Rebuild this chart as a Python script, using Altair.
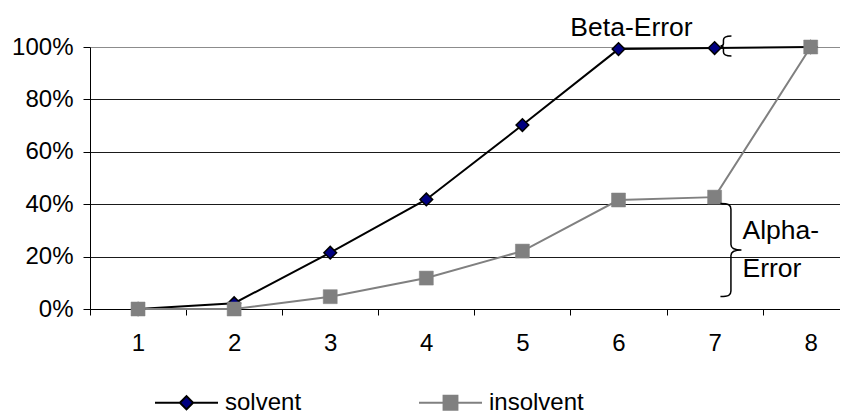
import altair as alt
import pandas as pd

# ---- data ----
categories = [1, 2, 3, 4, 5, 6, 7, 8]
solvent = [0.0, 0.022, 0.215, 0.418, 0.702, 0.992, 0.996, 1.0]
insolvent = [0.0, 0.0, 0.047, 0.118, 0.221, 0.416, 0.427, 1.0]
series_names = ["solvent", "insolvent"]
y_ticks = [0.0, 0.2, 0.4, 0.6, 0.8, 1.0]

# annotations (in data coordinates)
center_text = ["Beta-Error"]
center_x = [6.135]
center_y = [1.042]
left_text = ["Alpha-", "Error"]
left_x = [7.29, 7.29]
left_y = [0.267, 0.122]
beta_brace_x = [7.118]
beta_brace_y = [1.004]
alpha_brace_x = [7.17]
alpha_brace_y = [0.225]

FONT = "Liberation Sans"

df = pd.DataFrame({
    "x": categories * 2,
    "value": solvent + insolvent,
    "series": [series_names[0]] * len(categories) + [series_names[1]] * len(categories),
})
df_center = pd.DataFrame({"x": center_x, "y": center_y, "label": center_text})
df_left = pd.DataFrame({"x": left_x, "y": left_y, "label": left_text})
df_beta = pd.DataFrame({"x": beta_brace_x, "y": beta_brace_y})
df_alpha = pd.DataFrame({"x": alpha_brace_x, "y": alpha_brace_y})

x_scale = alt.Scale(domain=[0.5, 8.305], nice=False, zero=False)
y_scale = alt.Scale(domain=[0, 1], nice=False)

x_enc = alt.X(
    "x:Q", scale=x_scale,
    axis=alt.Axis(
        values=[c - 0.5 for c in categories],
        labelExpr="format(datum.value + 0.5, 'd')",
        labelOffset=48, grid=False, tickSize=6, labelPadding=16, title=None,
        domainColor="black", tickColor="black", labelFlush=False, labelOverlap=False,
    ),
)
y_enc = alt.Y(
    "value:Q", scale=y_scale,
    axis=alt.Axis(
        values=y_ticks, format="%", tickSize=7, labelPadding=10, title=None,
        domainColor="black", tickColor="black", labelFlush=False, labelOverlap=False,
        grid=True,
        gridColor={"condition": {"test": "datum.value >= 1", "value": "#8c8c8c"}, "value": "#1a1a1a"},
    ),
)

base = alt.Chart(df)

line_sol = base.transform_filter(alt.datum.series == series_names[0]).mark_line(
    color="black", strokeWidth=2).encode(x=x_enc, y=y_enc)
line_ins = base.transform_filter(alt.datum.series == series_names[1]).mark_line(
    color="#808080", strokeWidth=2).encode(x="x:Q", y="value:Q")
pts_sol = base.transform_filter(alt.datum.series == series_names[0]).mark_point(
    shape="diamond", size=160, filled=True, fill="#000080", stroke="black",
    strokeWidth=1.5, opacity=1).encode(x="x:Q", y="value:Q")
pts_ins = base.transform_filter(alt.datum.series == series_names[1]).mark_point(
    shape="square", size=196, filled=True, fill="#808080", stroke="#808080",
    strokeWidth=0.5, opacity=1).encode(x="x:Q", y="value:Q")

sol_symbol = "M-1,0H-0.21M0.21,0H1M-0.21,0L0,-0.21L0.21,0L0,0.21Z"
ins_symbol = "M-1,0H-0.22M0.22,0H1M-0.22,-0.22H0.22V0.22H-0.22Z"

leg = alt.Legend(
    title=None, orient="none", legendX=64, legendY=323, direction="horizontal",
    columns=2, columnPadding=113, symbolSize=3969, symbolStrokeWidth=2,
    labelFont=FONT, labelFontSize=24, labelColor="black", labelOffset=6,
    padding=0, symbolOpacity=1,
)
legend_layer = base.transform_filter("false").mark_point(filled=True).encode(
    x="x:Q", y="value:Q",
    shape=alt.Shape("series:N", scale=alt.Scale(domain=series_names, range=[sol_symbol, ins_symbol]), legend=leg),
    fill=alt.Fill("series:N", scale=alt.Scale(domain=series_names, range=["#000080", "#808080"]), legend=leg),
    stroke=alt.Stroke("series:N", scale=alt.Scale(domain=series_names, range=["#000000", "#808080"]), legend=leg),
)

txt_center = alt.Chart(df_center).mark_text(
    font=FONT, fontSize=26.5, align="center", baseline="alphabetic", color="black"
).encode(x="x:Q", y="y:Q", text="label:N")
txt_left = alt.Chart(df_left).mark_text(
    font=FONT, fontSize=26.5, align="left", baseline="alphabetic", color="black"
).encode(x="x:Q", y="y:Q", text="label:N")

beta_path = "M0.55,-1C0.1,-1 -0.25,-0.95 -0.25,-0.6L-0.25,-0.25C-0.25,-0.08 -0.35,0 -0.55,0C-0.35,0 -0.25,0.08 -0.25,0.25L-0.25,0.6C-0.25,0.95 0.1,1 0.55,1"
alpha_path = "M-0.226,-1C-0.05,-1 0,-0.97 0,-0.88L0,-0.12C0,-0.04 0.08,0 0.226,0C0.08,0 0,0.04 0,0.12L0,0.88C0,0.97 -0.05,1 -0.226,1"

brace_beta = alt.Chart(df_beta).mark_point(
    shape=beta_path, size=400, filled=False, stroke="black", strokeWidth=1.5, opacity=1
).encode(x="x:Q", y="y:Q")
brace_alpha = alt.Chart(df_alpha).mark_point(
    shape=alpha_path, size=8649, filled=False, stroke="black", strokeWidth=1.5, opacity=1
).encode(x="x:Q", y="y:Q")

chart = alt.layer(
    line_sol, line_ins, pts_sol, pts_ins, legend_layer,
    txt_center, txt_left, brace_beta, brace_alpha,
).properties(
    width=750, height=262,
    autosize=alt.AutoSizeParams(type="none"),
    padding={"left": 82, "top": 39, "right": 0, "bottom": 107},
    background="white",
).configure_view(stroke=None).configure_axis(
    labelFont=FONT, labelFontSize=24, labelColor="black",
    domainWidth=1, tickWidth=1, gridWidth=1,
)

chart.save("out.html", embed_options={"renderer": "svg", "actions": False})
